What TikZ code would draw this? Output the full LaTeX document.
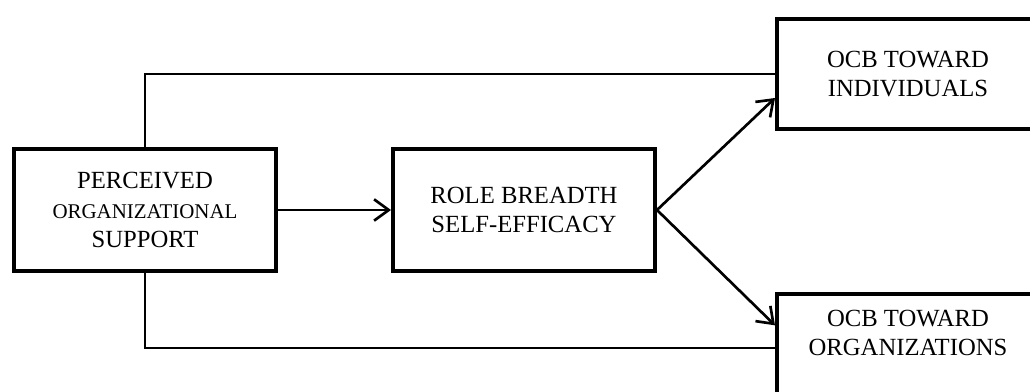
\documentclass[tikz,border=0pt]{standalone}
\usepackage{fontspec}
\setmainfont{Liberation Serif}
\usetikzlibrary{arrows.meta}

\begin{document}
\begin{tikzpicture}[x=0.75pt, y=-0.75pt,
		>={Straight Barb[length=11pt,width=16pt]},   %Pfeilspitzen
		box/.style={draw, line width=3pt, minimum width=196.5pt, align=center, inner sep=0pt},
		link/.style={line width=2pt},
		font=\fontsize{18.5}{22}\selectfont]
		%Bildbereich
		\useasboundingbox (0,0) rectangle (1030,392);
		\clip (0,0) rectangle (1030,392);
		%Kaesten
		\node[box, minimum height=91.5pt] (pos) at (145,210) {PERCEIVED\\{\fontsize{15.7}{22}\selectfont ORGANIZATIONAL}\\SUPPORT};
		\node[box, minimum height=92pt] (rbse) at (524,210) {ROLE BREADTH\\SELF-EFFICACY};
		\node[box, minimum height=82.5pt] (ocbi) at (908,74) {OCB TOWARD\\INDIVIDUALS};
		\node[box, minimum height=81pt, text depth=23pt] (ocbo) at (908,348) {OCB TOWARD\\ORGANIZATIONS};
		%Verbindungen
		\draw[link, ->] (pos) -- (rbse);
		\draw[link, ->] (rbse.east) -- ([yshift=-18pt]ocbi.west);
		\draw[link, ->] (rbse.east) -- ([yshift=17pt]ocbo.west);
		\draw[link] (pos.north) |- (ocbi.west);
		\draw[link] (pos.south) |- (ocbo.west);
	\end{tikzpicture}
\end{document}
